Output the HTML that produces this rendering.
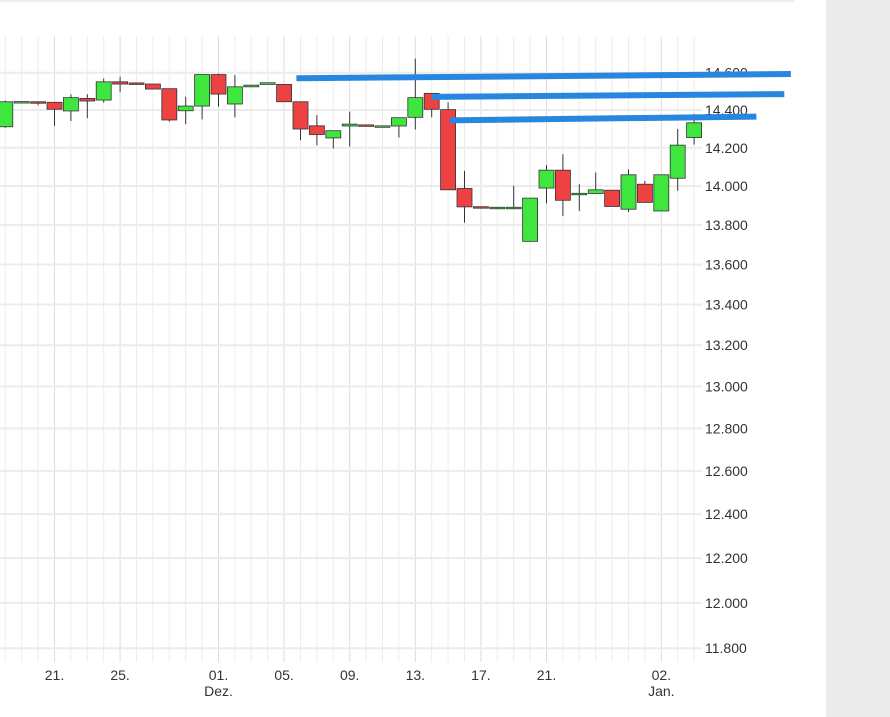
<!DOCTYPE html>
<html><head><meta charset="utf-8"><style>
html,body{margin:0;padding:0;background:#fff;width:890px;height:717px;overflow:hidden;font-family:"Liberation Sans",sans-serif;}
#side{position:absolute;left:826px;top:0;width:64px;height:717px;background:#ebebeb;}
#topline{position:absolute;left:0;top:0;width:795px;height:2px;background:#eeeeee;}
svg{position:absolute;left:0;top:0;}
</style></head><body>
<div id="topline"></div>
<div id="side"></div>
<svg id="chart" width="890" height="717"></svg>
<script>
const opens  = [14311,14444,14444,14441,14395,14462,14453,14551,14545,14539,14514,14396,14421,14590,14432,14524,14537,14537,14444,14316,14252,14315,14321,14315,14315,14361,14489,14402,13988,13894,13890,13890,13717,13990,14083,13962,13962,13979,13881,14010,13872,14041,14254];
const closes = [14444,14445,14443,14404,14466,14448,14551,14539,14543,14512,14347,14421,14590,14485,14524,14533,14546,14444,14299,14270,14290,14325,14318,14316,14359,14466,14404,13981,13893,13892,13891,13891,13938,14083,13927,13963,13981,13895,14059,13916,14059,14214,14332];
const highs  = [14450,14446,14446,14441,14484,14484,14569,14578,14546,14539,14514,14471,14592,14596,14587,14533,14546,14537,14444,14373,14290,14391,14321,14316,14359,14676,14489,14441,14079,13894,13891,14002,13938,14109,14166,14010,14071,13979,14088,14027,14059,14299,14380];
const lows   = [14305,14443,14426,14316,14341,14356,14439,14495,14542,14512,14338,14324,14350,14418,14361,14524,14537,14444,14240,14213,14196,14207,14318,14315,14254,14297,14361,13981,13812,13892,13890,13890,13717,13912,13846,13872,13962,13895,13867,13916,13872,13976,14217];
const yTicks = [14600,14400,14200,14000,13800,13600,13400,13200,13000,12800,12600,12400,12200,12000,11800];
const xLabelIdx = [3,7,13,17,21,25,29,33,40];
const xLabels = ["21.","25.","01.","05.","09.","13.","17.","21.","02."];
const xLabels2 = ["","","Dez.","","","","","","Jan."];
const resStart = [17.75, 26.0, 27.1];
const resStartVal = [14570, 14470, 14345];
const resEndIdx = [47.9, 47.5, 45.8];
const resEndVal = [14593, 14485, 14365];

const NS="http://www.w3.org/2000/svg";
const svg=document.getElementById('chart');
const X0=5.3, DX=16.4, TOP=36, BOT=662, RIGHT=702;
const xAt=i=>X0+i*DX;
const yAt=v=>110+2703*Math.log(14400/v);
function mk(t,a){const e=document.createElementNS(NS,t);for(const k in a)e.setAttribute(k,a[k]);svg.appendChild(e);return e;}
for(let i=0;i<=42;i++){
  const g=mk('line',{x1:xAt(i),x2:xAt(i),y1:TOP,y2:BOT,stroke:xLabelIdx.includes(i)?'#dcdcdc':'#ececec','stroke-width':1});
  
  
}
yTicks.forEach(v=>{
  const y=yAt(v);
  const g=mk('line',{x1:0,x2:RIGHT,y1:y,y2:y,stroke:'#ececec','stroke-width':2});
  
  
  const t=mk('text',{x:705,y:y+5,'font-size':14,fill:'#333'});
  t.textContent=(v/1000).toFixed(3);
  
  
});
xLabelIdx.forEach((i,k)=>{
  const t=mk('text',{x:xAt(i),y:680,'font-size':14,fill:'#333','text-anchor':'middle'});
  t.textContent=xLabels[k];
  
  
  if(xLabels2[k]){
    const t2=mk('text',{x:xAt(i),y:696,'font-size':14,fill:'#333','text-anchor':'middle'});
    t2.textContent=xLabels2[k];
    
    
  }
});
opens.forEach((o,i)=>{
  const c=closes[i],x=xAt(i),up=c>=o;
  const w=mk('line',{x1:x,x2:x,y1:yAt(highs[i]),y2:yAt(lows[i]),stroke:'#333','stroke-width':1});
  
  
  const yt=yAt(Math.max(o,c)),yb=yAt(Math.min(o,c));
  const r=mk('rect',{x:x-7.5,y:yt,width:15,height:Math.max(1.5,yb-yt),fill:up?'#3ee63e':'#ee4242',stroke:'#333','stroke-width':0.8});
  
  
});
resStart.forEach((s,k)=>{
  const l=mk('line',{x1:xAt(s),y1:yAt(resStartVal[k]),x2:xAt(resEndIdx[k]),y2:yAt(resEndVal[k]),stroke:'#2787e0','stroke-width':6});
  
  
});
</script>
</body></html>
